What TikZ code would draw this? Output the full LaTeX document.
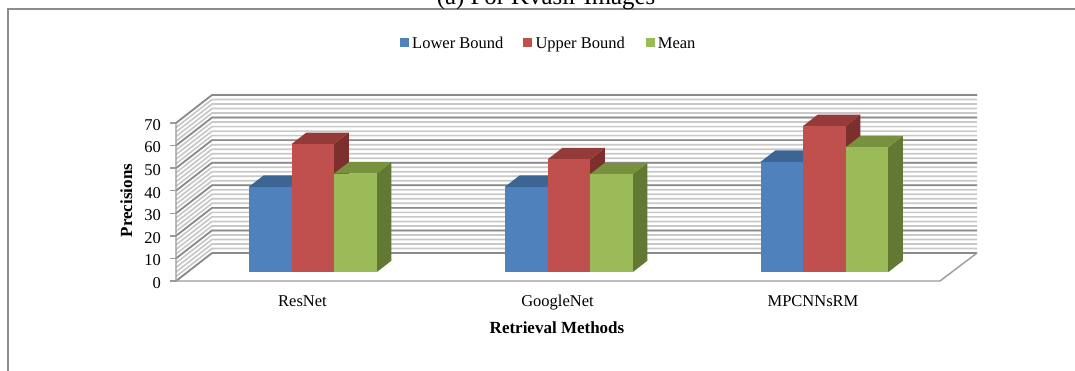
\documentclass[tikz,border=0pt]{standalone}
\usepackage{fontspec}
\setmainfont{Liberation Serif}
\definecolor{framecol}{HTML}{8C8C8C}
\definecolor{axiscol}{HTML}{9A9A9A}
\definecolor{gridminor}{HTML}{C8C8C8}
\definecolor{gridmajor}{HTML}{8A8A8A}
\definecolor{lbfront}{HTML}{4F81BD}
\definecolor{lbtop}{HTML}{3D6593}
\definecolor{lbside}{HTML}{32547A}
\definecolor{ubfront}{HTML}{C0504D}
\definecolor{ubtop}{HTML}{943A38}
\definecolor{ubside}{HTML}{7D2F2D}
\definecolor{mnfront}{HTML}{9BBB59}
\definecolor{mntop}{HTML}{78913F}
\definecolor{mnside}{HTML}{637833}
\tikzset{
  minorline/.style={gridminor, line width=1.7pt},
  majorline/.style={gridmajor, line width=1.7pt},
  axisline/.style={axiscol, line width=1.4pt},
  ticklabel/.style={anchor=east, inner sep=0pt},
  catlabel/.style={anchor=base, inner sep=0pt},
  legendtext/.style={anchor=base west, inner sep=0pt},
}
% one 3-D column: #1 left x, #2 value, #3 front, #4 top, #5 side colour
\newcommand\chartbar[5]{%
  \pgfmathsetmacro\bt{272.3-#2*2.2571}
  \fill[#5] (#1+42.5,272.3) -- (#1+42.5,\bt) -- (#1+57.3,\bt-11.5) -- (#1+57.3,260.8) -- cycle;
  \fill[#4] (#1,\bt) -- (#1+14.8,\bt-11.5) -- (#1+57.3,\bt-11.5) -- (#1+42.5,\bt) -- cycle;
  \fill[#3] (#1,272.3) rectangle (#1+42.5,\bt);
}
\begin{document}
\begin{tikzpicture}[x=1pt,y=-1pt,font=\fontsize{16.5}{19}\selectfont]
\useasboundingbox (0,0) rectangle (1075,370);

% outer frame and caption
\draw[framecol, line width=1.3pt] (8,380) -- (8,9) -- (1085,9);
\node[anchor=base, inner sep=0pt, font=\fontsize{24.8}{28}\selectfont] (caption) at (546,4.5) {(a) For Kvasir Images};

% legend
\fill[lbfront] (400,38.3) rectangle (409,46.7);
\node[legendtext] (lgLow) at (412,48.3) {Lower Bound};
\fill[ubfront] (523.3,38.3) rectangle (532.3,46.7);
\node[legendtext] (lgUp) at (535.3,48.3) {Upper Bound};
\fill[mnfront] (645.7,38.3) rectangle (654.7,46.7);
\node[legendtext] (lgMean) at (657.7,48.3) {Mean};

% side wall and back wall hatching
\foreach \k in {0,...,35}{
  \pgfmathsetmacro\dy{\k*158/35}
  \draw[minorline] (176,281-\dy) -- (212,253-\dy) -- (977,253-\dy);
}
\foreach \k in {0,5,...,35}{
  \pgfmathsetmacro\dy{\k*158/35}
  \draw[majorline] (176,281-\dy) -- (212,253-\dy) -- (977,253-\dy);
}

% floor and value axis
\draw[axisline] (176,122.8) -- (176,281) -- (940,281) -- (977,253);
\foreach \v in {0,10,...,70}{
  \pgfmathsetmacro\ty{281-\v*2.2571}
  \draw[axisline] (170,\ty) -- (176,\ty);
  \node[ticklabel] (tick\v) at (161,\ty+2) {\v};
}

% columns
\chartbar{249}{37.9}{lbfront}{lbtop}{lbside}
\chartbar{291.5}{56.8}{ubfront}{ubtop}{ubside}
\chartbar{334}{43.7}{mnfront}{mntop}{mnside}

\chartbar{505}{37.9}{lbfront}{lbtop}{lbside}
\chartbar{547.5}{50.0}{ubfront}{ubtop}{ubside}
\chartbar{590}{43.4}{mnfront}{mntop}{mnside}

\chartbar{760.5}{48.9}{lbfront}{lbtop}{lbside}
\chartbar{803}{64.8}{ubfront}{ubtop}{ubside}
\chartbar{845.5}{55.3}{mnfront}{mntop}{mnside}

% category and axis titles
\node[catlabel] (catResNet) at (302.5,306.5) {ResNet};
\node[catlabel] (catGoogle) at (557.5,306.5) {GoogleNet};
\node[catlabel] (catMPC) at (813,306.5) {MPCNNsRM};
\node[catlabel, font=\fontsize{17}{20}\selectfont\bfseries] (xtitle) at (557,333) {Retrieval Methods};
\node[catlabel, rotate=90, font=\fontsize{17}{20}\selectfont\bfseries] (ytitle) at (132,200.5) {Precisions};
\end{tikzpicture}
\end{document}
